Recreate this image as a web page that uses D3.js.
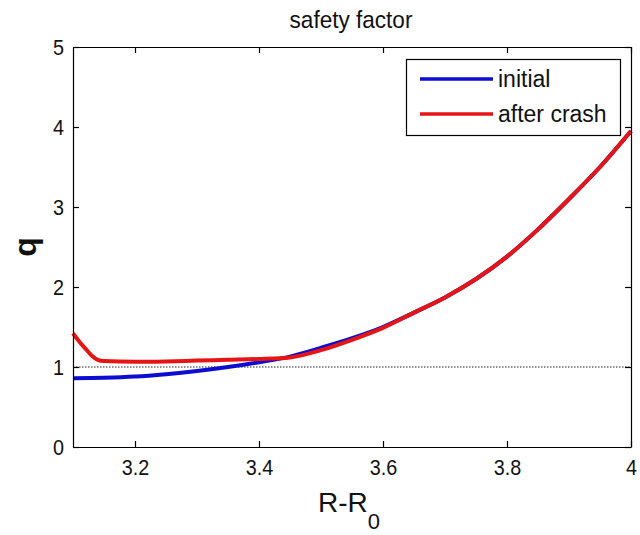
<!DOCTYPE html>
<html>
<head>
<meta charset="utf-8">
<script src="https://cdn.jsdelivr.net/npm/d3@7"></script>
<style>
  html, body { margin: 0; padding: 0; background: #fff; }
  svg { display: block; }
  text { font-family: "Liberation Sans", Arial, sans-serif; fill: #111; }
</style>
</head>
<body>
<svg id="chart" width="640" height="535"></svg>
<script>
// Safety factor profile q(R - R0), before and after the crash
const rInitial = [3.10, 3.15, 3.20, 3.25, 3.30, 3.35, 3.40, 3.45, 3.50, 3.55, 3.60, 3.65, 3.70, 3.75, 3.80, 3.85, 3.90, 3.95, 4.00];
const qInitial = [0.86, 0.865, 0.88, 0.91, 0.95, 1.00, 1.06, 1.13, 1.24, 1.36, 1.50, 1.68, 1.87, 2.10, 2.38, 2.72, 3.10, 3.50, 3.95];

const rCrash = [3.10, 3.11, 3.12, 3.13, 3.14, 3.15, 3.20, 3.25, 3.30, 3.35, 3.40, 3.45, 3.50, 3.55, 3.60, 3.65, 3.70, 3.75, 3.80, 3.85, 3.90, 3.95, 4.00];
const qCrash = [1.42, 1.32, 1.23, 1.145, 1.09, 1.075, 1.065, 1.07, 1.08, 1.09, 1.10, 1.12, 1.21, 1.34, 1.49, 1.68, 1.87, 2.10, 2.38, 2.72, 3.10, 3.50, 3.95];

const xTicks = [3.2, 3.4, 3.6, 3.8, 4];
const yTicks = [0, 1, 2, 3, 4, 5];
const qRef = 1;

const seriesNames = ["initial", "after crash"];
const seriesColors = ["#0c0cd2", "#e61414"];

const svg = d3.select("#chart");
const plotL = 73, plotR = 631, plotT = 47, plotB = 447;

const x = d3.scaleLinear().domain([3.1, 4]).range([plotL, plotR]);
const y = d3.scaleLinear().domain([0, 5]).range([plotB, plotT]);

// q = 1 reference line
svg.append("line")
  .attr("x1", x(3.1)).attr("x2", x(4))
  .attr("y1", y(qRef)).attr("y2", y(qRef))
  .attr("stroke", "#222").attr("stroke-width", 1.2)
  .attr("stroke-dasharray", "1.5,1.5");

const line = d3.line()
  .x(d => x(d[0])).y(d => y(d[1]))
  .curve(d3.curveMonotoneX);

const series = [
  d3.zip(rInitial, qInitial),
  d3.zip(rCrash, qCrash)
];

series.forEach((pts, i) => {
  svg.append("path")
    .datum(pts)
    .attr("d", line)
    .attr("fill", "none")
    .attr("stroke", seriesColors[i])
    .attr("stroke-width", 4)
    .attr("stroke-linejoin", "round");
});

// Axes box with inward ticks on all four sides
const tickLen = 6;
const axisBottom = d3.axisBottom(x).tickValues(xTicks).tickSizeInner(-tickLen).tickSizeOuter(0)
  .tickPadding(12).tickFormat(d3.format("~g"));
const axisTop = d3.axisTop(x).tickValues(xTicks).tickSizeInner(-tickLen).tickSizeOuter(0).tickFormat("");
const axisLeft = d3.axisLeft(y).tickValues(yTicks).tickSizeInner(-tickLen).tickSizeOuter(0)
  .tickPadding(9).tickFormat(d3.format("d"));
const axisRight = d3.axisRight(y).tickValues(yTicks).tickSizeInner(-tickLen).tickSizeOuter(0).tickFormat("");

function styleAxis(g) {
  g.select(".domain").attr("stroke", "#000").attr("stroke-width", 1.2);
  g.selectAll(".tick line").attr("stroke", "#000").attr("stroke-width", 1.2);
  g.selectAll(".tick text")
    .attr("fill", "#222")
    .style("font-family", "'Liberation Sans', Arial, sans-serif")
    .style("font-size", "22px");
}

svg.append("g").attr("transform", `translate(0,${plotB})`).call(axisBottom).call(styleAxis)
  .selectAll(".tick text").attr("transform", "scale(0.9,1)");
svg.append("g").attr("transform", `translate(0,${plotT})`).call(axisTop).call(styleAxis);
svg.append("g").attr("transform", `translate(${plotL},0)`).call(axisLeft).call(styleAxis)
  .selectAll(".tick text").attr("transform", "scale(0.9,1)").attr("x", -9 / 0.9);
svg.append("g").attr("transform", `translate(${plotR},0)`).call(axisRight).call(styleAxis);

// Title
const cx = 351;
svg.append("text")
  .attr("x", cx).attr("y", 28)
  .attr("text-anchor", "middle")
  .style("font-size", "24px")
  .attr("transform", `translate(${cx * 0.06},0) scale(0.94,1)`)
  .attr("fill", "#222")
  .text("safety factor");

// Axis labels
const xl = svg.append("text")
  .attr("x", 349).attr("y", 512)
  .attr("text-anchor", "middle")
  .style("font-size", "28px");
xl.append("tspan").text("R-R");
xl.append("tspan").attr("dy", 17).style("font-size", "22px").text("0");

svg.append("text")
  .attr("transform", `translate(36,${(plotT + plotB) / 2}) rotate(-90)`)
  .attr("text-anchor", "middle")
  .style("font-size", "32px")
  .style("font-weight", "bold")
  .text("q");

// Legend
const legend = svg.append("g");
legend.append("rect")
  .attr("x", 406.5).attr("y", 59.5).attr("width", 214).attr("height", 76)
  .attr("fill", "#fff").attr("stroke", "#000").attr("stroke-width", 1.2);
const legendRows = [79, 114];
seriesNames.forEach((name, i) => {
  legend.append("line")
    .attr("x1", 420).attr("x2", 493)
    .attr("y1", legendRows[i]).attr("y2", legendRows[i])
    .attr("stroke", seriesColors[i]).attr("stroke-width", 3.5);
  legend.append("text")
    .attr("x", 498).attr("y", legendRows[i] + 8)
    .style("font-size", "23px")
    .attr("fill", "#222")
    .text(name);
});
</script>
</body>
</html>
